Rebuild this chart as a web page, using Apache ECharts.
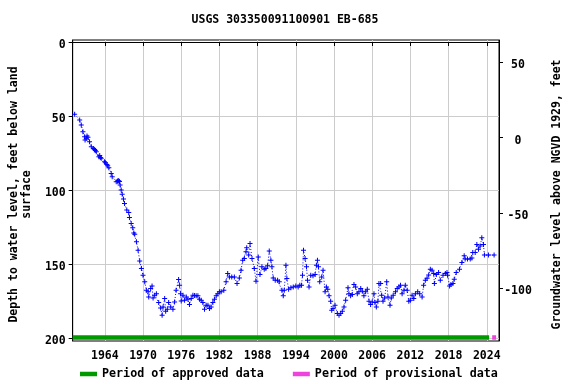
<!DOCTYPE html>
<html><head><meta charset="utf-8">
<script src="https://cdn.jsdelivr.net/npm/echarts@6/dist/echarts.min.js"></script>
<style>html,body{margin:0;padding:0;background:#fff}#c{width:576px;height:384px}</style>
</head><body><div id="c"></div>
<script>
// Measurement dates (decimal years) and depth to water (feet below land surface)
const years = [
1959.26,1960.05,1960.30,1960.56,1960.83,1960.90,1961.10,1961.20,1961.35,1961.60,1961.88,1962.24,1962.40,1962.50,1962.66,
1963.07,1963.20,1963.30,1963.44,1963.96,1964.10,1964.32,1964.45,1964.63,1965.00,1965.16,1965.79,1966.00,1966.10,1966.20,
1966.30,1966.40,1966.57,1966.73,1966.93,1967.09,1967.45,1967.76,1967.87,1968.14,1968.39,1968.55,1968.70,1968.97,1969.23,
1969.48,1969.75,1970.00,1970.27,1970.53,1970.80,1970.90,1971.20,1971.42,1971.58,1971.83,1972.10,1972.46,1972.77,1973.00,
1973.15,1973.40,1973.56,1973.82,1974.03,1974.35,1974.70,1974.96,1975.20,1975.59,1975.75,1975.90,1976.00,1976.28,1976.53,
1976.80,1977.05,1977.30,1977.57,1977.84,1978.10,1978.35,1978.62,1978.88,1979.14,1979.40,1979.66,1979.92,1980.20,1980.44,
1980.70,1980.97,1981.22,1981.50,1981.75,1982.00,1982.27,1982.69,1983.05,1983.30,1983.57,1983.94,1984.35,1984.77,1985.13,
1985.40,1985.66,1985.92,1986.18,1986.29,1986.60,1986.81,1987.12,1987.48,1987.75,1988.10,1988.37,1988.68,1989.04,1989.30,
1989.57,1989.83,1990.09,1990.25,1990.45,1990.77,1991.14,1991.40,1991.82,1992.03,1992.19,1992.45,1992.60,1992.87,1993.23,
1993.60,1994.00,1994.37,1994.63,1994.90,1995.05,1995.21,1995.46,1995.68,1995.84,1996.08,1996.35,1996.70,1997.03,1997.24,
1997.40,1997.56,1997.76,1998.07,1998.28,1998.60,1998.81,1999.02,1999.22,1999.48,1999.64,1999.85,2000.16,2000.53,2000.79,
2001.05,2001.31,2001.57,2001.83,2002.20,2002.35,2002.61,2002.88,2003.14,2003.40,2003.66,2003.92,2004.20,2004.45,2004.70,
2004.97,2005.23,2005.50,2005.75,2006.00,2006.28,2006.43,2006.65,2006.90,2007.06,2007.33,2007.49,2007.70,2007.96,2008.28,
2008.48,2008.80,2009.00,2009.30,2009.66,2009.93,2010.20,2010.45,2010.70,2011.00,2011.20,2011.50,2011.75,2012.00,2012.27,
2012.53,2012.79,2013.15,2013.46,2013.84,2014.08,2014.35,2014.62,2014.87,2015.13,2015.40,2015.66,2015.77,2016.08,2016.43,
2016.70,2017.12,2017.49,2017.75,2017.84,2018.16,2018.37,2018.68,2018.89,2019.20,2019.72,2020.09,2020.45,2020.60,2020.97,
2021.40,2021.66,2021.80,2022.18,2022.44,2022.70,2022.96,2023.22,2023.48,2023.63,2024.26,2025.15
];
const depths = [
48.8,52.6,56.0,60.5,63.9,66.1,65.0,63.5,64.3,67.3,70.7,71.8,72.5,73.2,74.0,
77.4,76.5,78.0,78.5,80.8,81.5,82.6,83.5,84.8,88.7,90.9,94.3,94.0,93.5,93.8,
94.2,96.5,99.9,102.8,106.0,108.9,113.4,115.0,118.4,122.4,125.4,128.8,129.8,134.8,140.5,
147.8,152.8,157.4,161.8,167.5,168.6,172.0,166.3,164.6,172.7,170.8,169.8,175.8,179.4,184.4,
178.8,173.1,181.7,180.3,175.8,178.8,180.3,175.4,167.5,160.3,164.1,169.8,174.8,170.8,174.2,
172.0,173.6,177.2,173.1,170.8,171.0,171.3,171.3,173.6,174.2,175.8,180.3,177.6,177.6,179.8,
178.8,175.8,173.6,171.3,169.8,168.6,168.6,167.5,161.8,156.2,158.5,158.5,158.5,163.0,159.2,
154.0,147.2,146.1,141.6,138.9,143.8,135.9,146.1,152.8,161.4,145.0,156.9,151.7,153.3,152.8,
151.0,141.1,147.2,151.7,159.2,160.7,160.7,161.8,167.5,171.3,167.5,150.6,159.6,166.8,165.9,
165.3,164.6,165.3,164.1,164.1,157.4,140.5,146.1,151.7,160.7,165.3,157.4,157.8,156.9,150.6,
147.2,151.7,161.8,158.5,154.0,168.6,165.3,166.8,171.3,174.9,181.0,179.8,177.6,183.2,184.4,
183.2,181.7,178.8,174.2,165.9,169.8,171.3,170.4,163.6,165.3,169.8,168.6,166.3,168.2,171.3,
168.6,166.8,174.9,177.2,175.4,169.8,175.8,178.8,174.9,163.0,163.0,170.8,174.9,172.7,161.8,
172.0,177.6,172.7,170.8,168.6,166.3,165.3,164.1,169.8,167.5,164.1,167.5,174.9,174.2,170.8,
173.1,169.8,168.6,169.8,172.0,164.1,160.7,159.4,157.2,153.4,154.0,156.2,163.0,156.9,155.5,
160.7,157.4,156.2,155.5,157.4,164.6,163.6,163.0,160.1,155.5,153.3,148.8,144.3,146.5,146.5,
146.5,145.7,142.0,142.0,136.6,139.8,137.6,132.1,136.6,143.8,143.8,143.8
];
const xTickYears = [1964,1970,1976,1982,1988,1994,2000,2006,2012,2018,2024];
const depthTicks = [0,50,100,150,200];
const elevTicks = [-100,-50,0,50];
const approvedPeriod = [1958.95, 2024.37];
const provisionalPeriod = [2024.85, 2025.47];
const periodBarDepth = 199.4;

const FONT = 'DejaVu Sans Mono';
const txt = {fontFamily: FONT, fontWeight: 'bold', fontSize: 11.5, color: '#000'};
const chart = echarts.init(document.getElementById('c'), null, {renderer: 'canvas'});
const plus = 'path://M2,0L3,0L3,5L2,5ZM0,2L5,2L5,3L0,3Z';
const shiftedLabel = v => '{a|' + v + '}';
const richShift = {a: Object.assign({padding: [6, 0, 0, 0]}, txt)};

chart.setOption({
  animation: false,
  backgroundColor: '#fff',
  title: {text: 'USGS 303350091100901 EB-685', left: 285, top: 14, textAlign: 'center', padding: 0,
          textStyle: Object.assign({}, txt)},
  grid: {left: 71, top: 40, width: 428, height: 301, show: true, borderColor: '#000', borderWidth: 1, containLabel: false},
  legend: {left: 80, top: 368, padding: 0, itemWidth: 17, itemHeight: 4.5, itemGap: 29, icon: 'rect',
           textStyle: Object.assign({}, txt, {fontSize: 11.7}), data: ['Period of approved data', 'Period of provisional data']},
  xAxis: {type: 'value', min: 1958.95, max: 2025.92,
    axisLine: {show: true, lineStyle: {color: '#000'}},
    axisTick: {show: true, length: 4, customValues: xTickYears, lineStyle: {color: '#000'}},
    axisLabel: Object.assign({customValues: xTickYears, margin: 9, formatter: v => String(v)}, txt),
    splitLine: {show: true, lineStyle: {color: '#cccccc', width: 1}}},
  yAxis: [
    {type: 'value', inverse: true, min: -1.35, max: 201.75, position: 'left',
     name: 'Depth to water level, feet below land\nsurface', nameLocation: 'middle', nameGap: 37, nameRotate: 90,
     nameTextStyle: Object.assign({lineHeight: 13, align: 'center', padding: [0, 8, 0, 0]}, txt),
     axisLine: {show: true, lineStyle: {color: '#000'}},
     axisTick: {show: true, length: 4, customValues: depthTicks, lineStyle: {color: '#000'}},
     axisLabel: Object.assign({customValues: depthTicks, margin: 7, formatter: shiftedLabel, rich: richShift}, txt),
     splitLine: {show: true, lineStyle: {color: '#cccccc', width: 1}}},
    {type: 'value', min: -134.9, max: 64.8, position: 'right',
     name: 'Groundwater level above NGVD 1929, feet', nameLocation: 'middle', nameGap: 52, nameRotate: 90,
     nameTextStyle: Object.assign({padding: [0, 8, 0, 0]}, txt),
     axisLine: {show: true, lineStyle: {color: '#000'}},
     axisTick: {show: true, length: 4, customValues: elevTicks, lineStyle: {color: '#000'}},
     axisLabel: Object.assign({customValues: elevTicks, margin: 19, align: 'center', formatter: shiftedLabel, rich: richShift}, txt),
     splitLine: {show: false}}
  ],
  series: [
    {name: 'Depth to water', type: 'line', yAxisIndex: 0,
     data: years.map((y, i) => [y, depths[i]]),
     symbol: plus, symbolSize: 5, showAllSymbol: true,
     itemStyle: {color: '#0000ff'},
     lineStyle: {color: '#0000ff', width: 1, type: [1, 2]}, z: 3},
    {name: 'Period of approved data', type: 'line', yAxisIndex: 0,
     data: approvedPeriod.map(x => [x, periodBarDepth]), symbol: 'none',
     itemStyle: {color: '#009900'}, lineStyle: {color: '#009900', width: 4.5, cap: 'butt'}, z: 4},
    {name: 'Period of provisional data', type: 'line', yAxisIndex: 0,
     data: provisionalPeriod.map(x => [x, periodBarDepth]), symbol: 'none',
     itemStyle: {color: '#ee44dd'}, lineStyle: {color: '#ee44dd', width: 4.5, cap: 'butt'}, z: 4}
  ]
});
</script></body></html>
